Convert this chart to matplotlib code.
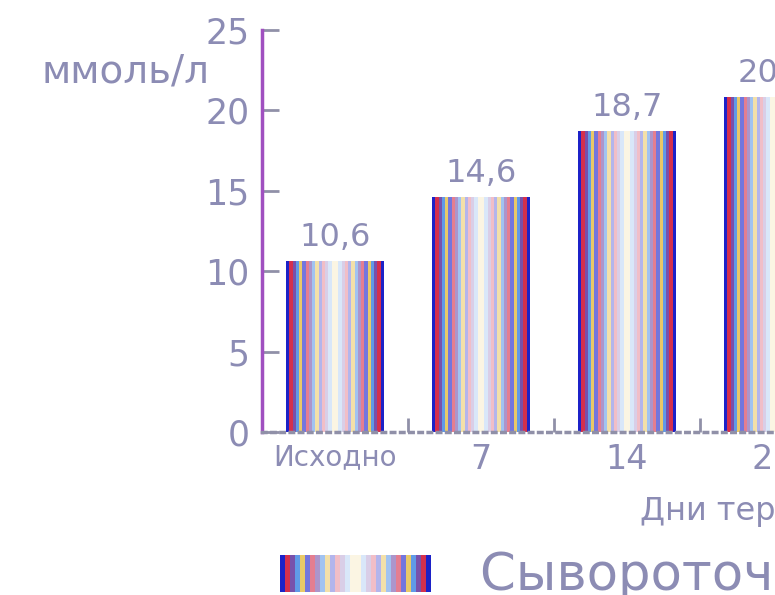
import numpy as np
import matplotlib
matplotlib.use("Agg")
import matplotlib.pyplot as plt
from matplotlib.colors import to_rgb

# Data
categories = ["Исходно", "7", "14", "21"]
values = [10.6, 14.6, 18.7, 20.8]
value_labels = ["10,6", "14,6", "18,7", "20,8"]
yticks = [0, 5, 10, 15, 20, 25]
y_label = "ммоль/л"
x_label = "Дни терапии"
series_name = "Сывороточная концентрация"

TEXT = "#8c8cb4"
plt.rcParams["font.family"] = ["DejaVu Sans"]

W, H = 775, 595
fig = plt.figure(figsize=(W / 100, H / 100), dpi=100)


def stripe_rgb(n=30):
    """Mirrored striped gradient: dark at both edges, washed out in the middle."""
    base = [to_rgb(c) for c in ("#1c22c8", "#d01838", "#5a2a98", "#2a78e0", "#e0b020")]
    u = np.linspace(-1, 1, n)
    out = np.zeros((1, n, 3))
    for i, ui in enumerate(u):
        a = 0.9 * (1 - abs(ui)) ** 0.8
        c = np.array(base[min(i, n - 1 - i) % len(base)])
        out[0, i] = c * (1 - a) + np.ones(3) * a
    return out


stripes = stripe_rgb()

# Axes extend past the right edge of the figure
ax_left, ax_bottom = 262 / W, (H - 432) / H
ax_w, ax_h = 4 * 146 / W, (432 - 30) / H
ax = fig.add_axes([ax_left, ax_bottom, ax_w, ax_h])

bar_w = 0.67
x = np.arange(len(categories))
bars = ax.bar(x, values, width=bar_w, color="none", edgecolor="none")
for b in bars:
    x0, w, h = b.get_x(), b.get_width(), b.get_height()
    ax.imshow(stripes, extent=[x0, x0 + w, 0, h], aspect="auto",
              interpolation="nearest", zorder=2)

for xi, v, lab in zip(x, values, value_labels):
    ax.annotate(lab, (xi, v), xytext=(0, 6), textcoords="offset points",
                ha="center", va="bottom", fontsize=23, color=TEXT,
                annotation_clip=False)

ax.set_xlim(-0.5, len(categories) - 0.5)
ax.set_ylim(0, 25)

for s in ("top", "right"):
    ax.spines[s].set_visible(False)
ax.spines["left"].set_color("#a050c0")
ax.spines["left"].set_linewidth(2.5)
ax.spines["bottom"].set_color("#9090a8")
ax.spines["bottom"].set_linestyle(":")
ax.spines["bottom"].set_linewidth(2.5)

ax.set_yticks(yticks)
ax.set_yticklabels([str(t) for t in yticks])
ax.tick_params(axis="y", direction="in", length=12, width=2, color="#9090a8",
               pad=9, labelsize=25, labelcolor=TEXT)

ax.set_xticks(x)
ax.set_xticklabels(categories)
ax.tick_params(axis="x", which="major", length=0, pad=8, labelsize=24,
               labelcolor=TEXT)
ax.xaxis.get_ticklabels()[0].set_fontsize(20)
ax.set_xticks(x[:-1] + 0.5, minor=True)
ax.tick_params(axis="x", which="minor", direction="in", length=10, width=2,
               color="#9090a8")

# Axis titles
fig.text(126 / W, (H - 72) / H, y_label, ha="center", va="center",
         fontsize=28, color=TEXT)
fig.text(640 / W, (H - 520) / H, x_label, ha="left", va="baseline",
         fontsize=23, color=TEXT)

# Legend
lax = fig.add_axes([280 / W, (H - 592) / H, 151 / W, 37 / H])
lax.imshow(stripes, extent=[0, 1, 0, 1], aspect="auto", interpolation="nearest")
lax.set_axis_off()
fig.text(480 / W, (H - 590) / H, series_name, ha="left", va="baseline",
         fontsize=37, color=TEXT)

fig.savefig("out.png", dpi=100)
